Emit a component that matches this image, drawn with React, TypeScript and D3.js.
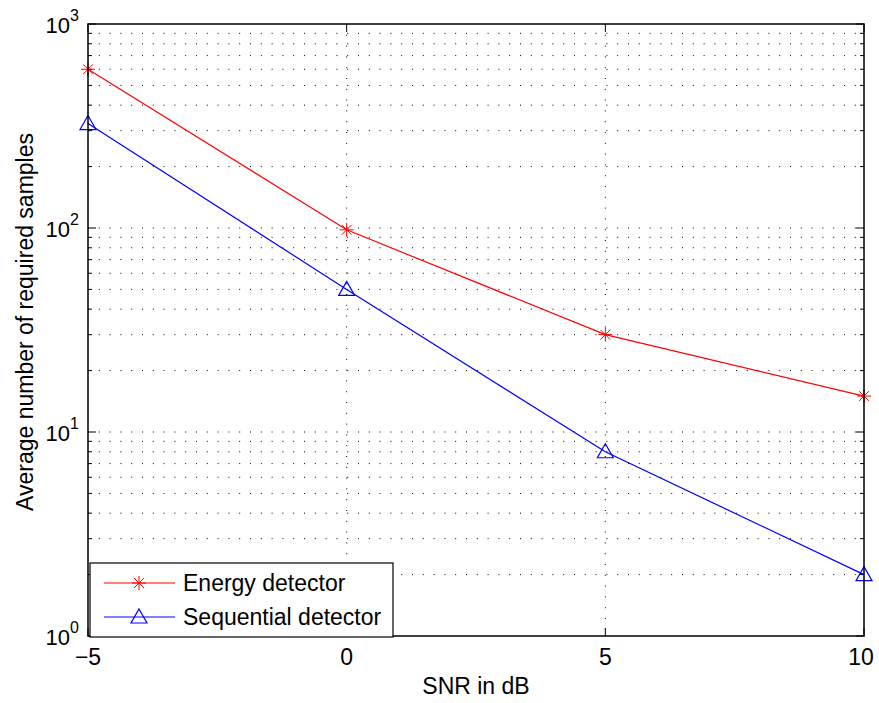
import React from "react";
import * as d3 from "d3";

const snr = [-5, 0, 5, 10];
const energy = [600, 98, 30, 15];
const sequential = [325, 50, 8, 2];
const xTicks = [-5, 0, 5, 10];
const yDecades = [0, 1, 2, 3];

const W = 879, H = 703;
const L = 88, R = 864, T = 24, B = 636;

export default function App() {
  const x = d3.scaleLinear().domain([-5, 10]).range([L, R]);
  const y = d3.scaleLog().domain([1, 1000]).range([B, T]);
  const line = d3.line<number>().x((_, i) => x(snr[i])).y((d) => y(d));
  const minors: number[] = [];
  for (let e = 0; e < 3; e++) for (let m = 2; m <= 9; m++) minors.push(m * Math.pow(10, e));
  const majors = yDecades.map((e) => Math.pow(10, e));
  const font = "Liberation Sans, Arial, sans-serif";
  const grid = { stroke: "#000", strokeWidth: 1, strokeDasharray: "1,9.8" };
  const star = (cx: number, cy: number, c: string, k: number) => {
    const s = 7;
    return (
      <g key={k} stroke={c} strokeWidth={1}>
        <line x1={cx - s} y1={cy} x2={cx + s} y2={cy} />
        <line x1={cx} y1={cy - s} x2={cx} y2={cy + s} />
        <line x1={cx - s * 0.7} y1={cy - s * 0.7} x2={cx + s * 0.7} y2={cy + s * 0.7} />
        <line x1={cx - s * 0.7} y1={cy + s * 0.7} x2={cx + s * 0.7} y2={cy - s * 0.7} />
      </g>
    );
  };
  const tri = (cx: number, cy: number, c: string, k: number) => {
    const s = 8;
    return (
      <path key={k} d={`M${cx},${cy - s}L${cx + s},${cy + s * 0.75}L${cx - s},${cy + s * 0.75}Z`} fill="none" stroke={c} strokeWidth={1.2} />
    );
  };
  return (
    <svg width={W} height={H} style={{ position: "absolute", left: 0, top: 0, background: "#fff" }}>
      <rect x={0} y={0} width={W} height={H} fill="#fff" />
      {[...majors, ...minors].filter((v) => v > 1 && v < 1000).map((v, i) => (
        <line key={"gy" + i} x1={L} x2={R} y1={y(v)} y2={y(v)} {...grid} />
      ))}
      {xTicks.filter((v) => v > -5 && v < 10).map((v, i) => (
        <line key={"gx" + i} x1={x(v)} x2={x(v)} y1={T} y2={B} {...grid} />
      ))}
      {majors.map((v, i) => (
        <g key={"mt" + i} stroke="#000">
          <line x1={L} x2={L + 8} y1={y(v)} y2={y(v)} />
          <line x1={R} x2={R - 8} y1={y(v)} y2={y(v)} />
        </g>
      ))}
      {minors.map((v, i) => (
        <g key={"mn" + i} stroke="#000">
          <line x1={L} x2={L + 4} y1={y(v)} y2={y(v)} />
          <line x1={R} x2={R - 4} y1={y(v)} y2={y(v)} />
        </g>
      ))}
      {xTicks.map((v, i) => (
        <g key={"xt" + i} stroke="#000">
          <line x1={x(v)} x2={x(v)} y1={B} y2={B - 8} />
          <line x1={x(v)} x2={x(v)} y1={T} y2={T + 8} />
        </g>
      ))}
      <path d={line(energy) || ""} fill="none" stroke="#ff0000" strokeWidth={1.2} />
      <path d={line(sequential) || ""} fill="none" stroke="#0000ff" strokeWidth={1.2} />
      {energy.map((v, i) => star(x(snr[i]), y(v), "#ff0000", i))}
      {sequential.map((v, i) => tri(x(snr[i]), y(v), "#0000ff", i))}
      <rect x={L} y={T} width={R - L} height={B - T} fill="none" stroke="#000" strokeWidth={1.5} />
      {xTicks.map((v, i) => (
        <text key={"xl" + i} x={x(v) - (v === 10 ? 3 : 0)} y={665} textAnchor="middle" fontFamily={font} fontSize={23}>
          {v < 0 ? "\u2212" + Math.abs(v) : String(v)}
        </text>
      ))}
      {yDecades.map((e, i) => (
        <text key={"yl" + i} x={79} y={y(Math.pow(10, e)) + 9} textAnchor="end" fontFamily={font} fontSize={22}>
          10
          <tspan dy={-12} fontSize={16}>{e}</tspan>
        </text>
      ))}
      <text x={476} y={694} textAnchor="middle" fontFamily={font} fontSize={23}>SNR in dB</text>
      <text transform={`translate(33,322) rotate(-90)`} textAnchor="middle" fontFamily={font} fontSize={23}>
        Average number of required samples
      </text>
      <rect x={90} y={563} width={303} height={74} fill="#fff" stroke="#000" strokeWidth={1.2} />
      <line x1={104} x2={175} y1={583} y2={583} stroke="#ff0000" strokeWidth={1.2} />
      {star(139, 583, "#ff0000", 100)}
      <line x1={104} x2={175} y1={617} y2={617} stroke="#0000ff" strokeWidth={1.2} />
      {tri(139, 617, "#0000ff", 101)}
      <text x={183} y={591} fontFamily={font} fontSize={23}>Energy detector</text>
      <text x={183} y={625} fontFamily={font} fontSize={23}>Sequential detector</text>
    </svg>
  );
}
